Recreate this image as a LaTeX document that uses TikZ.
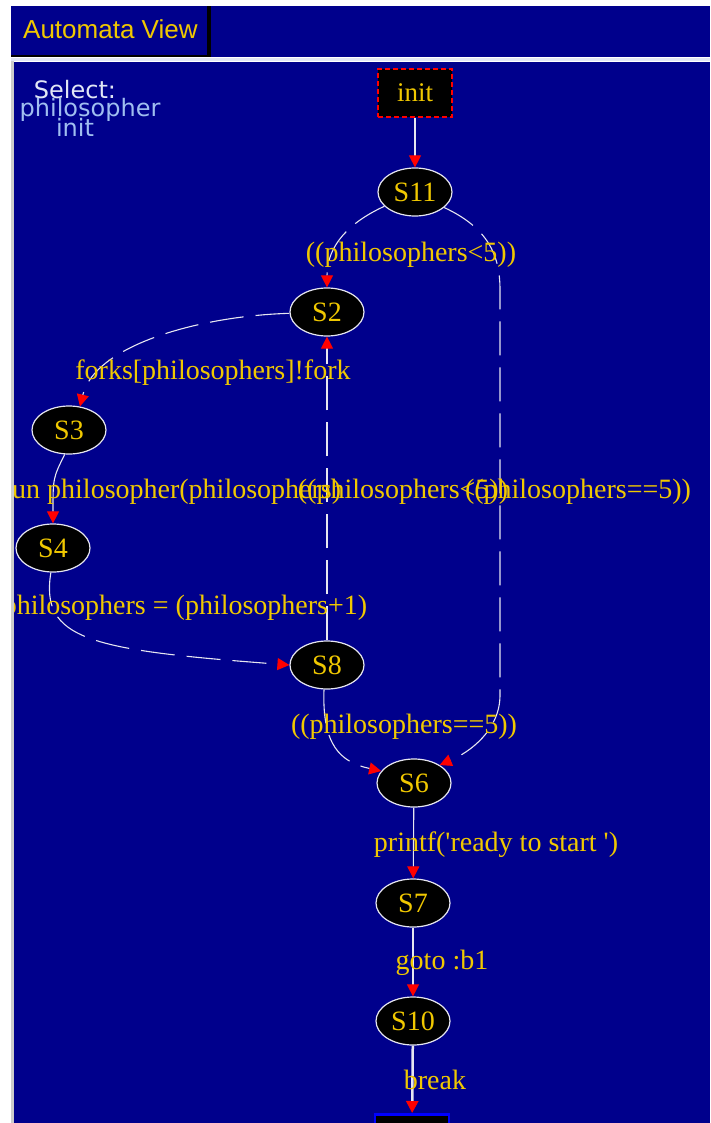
\documentclass[tikz,border=0pt]{standalone}
\usepackage{fontspec}
\setmainfont{Liberation Serif}
\newfontfamily\lblfont{Liberation Serif}[Ligatures=TeXOff]
\newfontfamily\uifont{Liberation Sans}
\newfontfamily\selfont{DejaVu Sans}
\usetikzlibrary{shapes.geometric,arrows.meta}
\definecolor{bgblue}{RGB}{0,0,140}
\definecolor{lblyellow}{RGB}{240,200,0}
\definecolor{edgewhite}{RGB}{230,230,240}
\definecolor{selblue}{RGB}{160,190,240}
\definecolor{selwhite}{RGB}{225,230,245}
\begin{document}
\begin{tikzpicture}[x=1pt,y=-1pt,
  state/.style={ellipse,draw=edgewhite,line width=1.2pt,fill=black,minimum width=74pt,minimum height=48pt,inner sep=0pt,text=lblyellow,font=\lblfont\fontsize{28}{28}\selectfont},
  initbox/.style={draw=red,line width=1.5pt,dash pattern=on 5pt off 3pt,fill=black,minimum width=74pt,minimum height=48pt,inner sep=0pt,text=lblyellow,font=\lblfont\fontsize{27}{27}\selectfont},
  endbox/.style={draw=blue,line width=2.5pt,fill=black,minimum width=74pt,minimum height=30pt,inner sep=0pt},
  lbl/.style={text=lblyellow,font=\lblfont\fontsize{28}{28}\selectfont,inner sep=0pt},
  tr/.style={draw=edgewhite,line width=1.1pt,-{Triangle[length=12pt,width=12pt,color=red]}},
  dtr/.style={tr,dash pattern=on 34pt off 12pt},
  seltext/.style={anchor=base,font=\selfont\fontsize{24}{24}\selectfont,inner sep=0pt},
]
\useasboundingbox (0,0) rectangle (710,1123);
\fill[white] (0,0) rectangle (710,1123);
% header
\fill[bgblue] (11,6) rectangle (710,57);
\fill[black] (207,6) rectangle (211,57);
\fill[black] (11,55) rectangle (211,57);
\fill[selwhite] (11,58) rectangle (710,61);
\node[anchor=base west,text=lblyellow,font=\uifont\fontsize{26}{26}\selectfont,inner sep=0pt] (tab) at (23,39) {Automata View};
% panel
\fill[gray!40] (11,61) rectangle (14,1123);
\fill[bgblue] (14,62) rectangle (710,1123);
\begin{scope}
\clip (14,62) rectangle (710,1123);
\node[seltext,text=selwhite] (sel) at (75,99) {Select:};
\node[seltext,text=selblue] (selp) at (90,117) {philosopher};
\node[seltext,text=selblue] (seli) at (75,137) {init};

\node[initbox] (init) at (415,93) {init};
\node[state] (s11) at (415,192) {S11};
\node[state] (s2) at (327,312) {S2};
\node[state] (s3) at (69,430) {S3};
\node[state] (s4) at (53,548) {S4};
\node[state] (s8) at (327,665) {S8};
\node[state] (s6) at (414,783) {S6};
\node[state] (s7) at (413,903) {S7};
\node[state] (s10) at (413,1021) {S10};
\node[endbox,anchor=north] (end) at (412,1113) {};

\coordinate (r1) at (500,290);
\coordinate (r2) at (500,695);

\draw[tr] (init) -- (s11);
\draw[dtr] (s11.-155) .. controls (350,222) and (327,245) .. (s2.north);
\draw[dtr] (s11.-28) .. controls (488,228) and (500,255) .. (r1) -- (r2) .. controls (500,730) and (470,752) .. (s6.35);
\draw[dtr] (s2.182) .. controls (200,316) and (95,345) .. (s3.65);
\draw[tr] (s3.-100) .. controls (53,478) .. (s4.north);
\draw[dtr] (s4.-95) .. controls (40,640) and (90,650) .. (s8.west);
\draw[dtr] (s8.north) -- (s2.south);
\draw[dtr] (s8.-97) .. controls (322,745) and (340,762) .. (s6.160);
\draw[tr] (s6) -- (s7);
\draw[tr] (s7) -- (s10);
\draw[tr,line width=2.5pt] (s10) -- (end);

\node[lbl] (l1) at (411,255) {((philosophers<5))};
\node[lbl] (l2) at (213,373) {forks[philosophers]!fork};
\node[lbl] (l3) at (172,492) {run philosopher(philosophers)};
\node[lbl] (l4) at (403,492) {((philosophers<5))};
\node[lbl] (l5) at (578,492) {((philosophers==5))};
\node[lbl] (l6) at (185,608) {philosophers = (philosophers+1)};
\node[lbl] (l7) at (404,727) {((philosophers==5))};
\node[lbl] (l8) at (496,845) {printf('ready to start ')};
\node[lbl] (l9) at (442,963) {goto :b1};
\node[lbl] (l10) at (435,1080) {break};
\end{scope}
\end{tikzpicture}
\end{document}
